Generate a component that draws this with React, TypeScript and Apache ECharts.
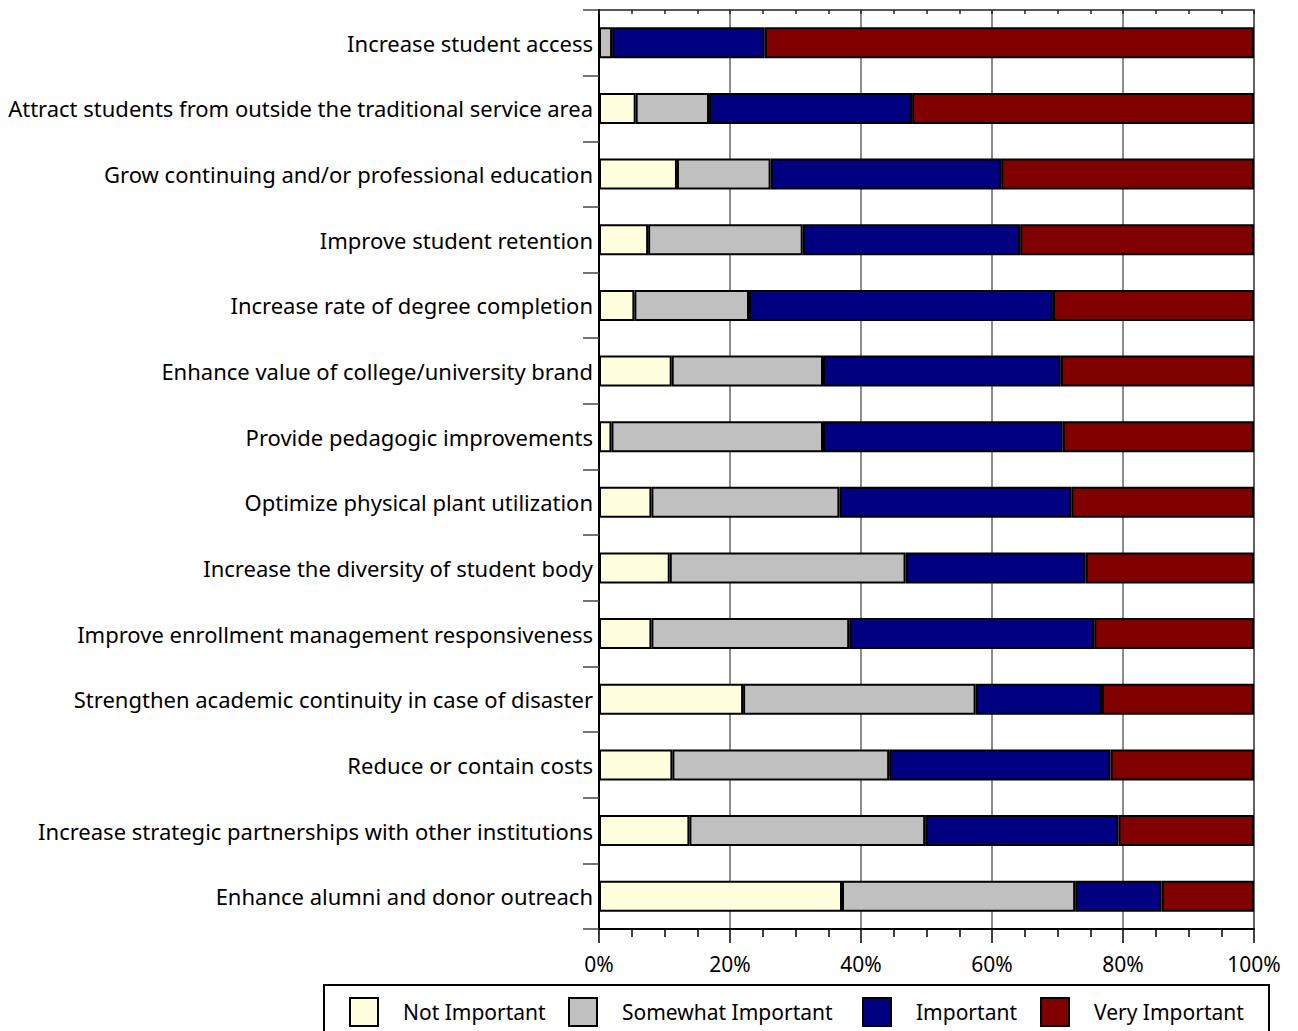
import React, { useEffect, useRef } from "react";
import * as echarts from "echarts";

const categories = [
  "Increase student access",
  "Attract students from outside the traditional service area",
  "Grow continuing and/or professional education",
  "Improve student retention",
  "Increase rate of degree completion",
  "Enhance value of college/university brand",
  "Provide pedagogic improvements",
  "Optimize physical plant utilization",
  "Increase the diversity of student body",
  "Improve enrollment management responsiveness",
  "Strengthen academic continuity in case of disaster",
  "Reduce or contain costs",
  "Increase strategic partnerships with other institutions",
  "Enhance alumni and donor outreach",
];

const notImportant = [0, 5.6, 11.9, 7.5, 5.4, 11.1, 1.9, 8.0, 10.8, 8.0, 22.0, 11.2, 13.8, 37.1];
const somewhatImportant = [2.0, 11.2, 14.3, 23.6, 17.5, 23.1, 32.3, 28.7, 36.0, 30.2, 35.5, 33.1, 36.0, 35.6];
const important = [23.3, 31.0, 35.2, 33.2, 46.4, 36.3, 36.6, 35.4, 27.5, 37.4, 19.3, 33.8, 29.5, 13.2];
const veryImportant = [74.7, 52.2, 38.6, 35.7, 30.7, 29.5, 29.2, 27.9, 25.7, 24.4, 23.2, 21.9, 20.7, 14.1];

const seriesNames = ["Not Important", "Somewhat Important", "Important", "Very Important"];
const seriesColors = ["#FFFFDD", "#C0C0C0", "#000080", "#800000"];
const xTicks = [0, 20, 40, 60, 80, 100];

const FONT = "Noto Sans";
const legendLefts = [349, 568, 862, 1040];

export default function App() {
  const ref = useRef<HTMLDivElement>(null);
  useEffect(() => {
    if (!ref.current) return;
    const chart = echarts.init(ref.current, null, { renderer: "svg" });
    const values = [notImportant, somewhatImportant, important, veryImportant];
    chart.setOption({
      animation: false,
      backgroundColor: "#ffffff",
      textStyle: { fontFamily: FONT },
      grid: {
        left: 599,
        right: 44,
        top: 10,
        bottom: 102,
        show: true,
        borderColor: "#222",
        borderWidth: 1.5,
        backgroundColor: "transparent",
      },
      xAxis: [
        {
          type: "value",
          min: xTicks[0],
          max: xTicks[xTicks.length - 1],
          interval: 20,
          position: "bottom",
          axisLine: { show: true, lineStyle: { color: "#000", width: 2 } },
          axisTick: { show: true, length: 14, lineStyle: { color: "#000", width: 1.5 } },
          minorTick: { show: true, splitNumber: 4, length: 8, lineStyle: { color: "#000", width: 1.5 } },
          axisLabel: {
            formatter: "{value}%",
            fontSize: 21,
            color: "#000",
            margin: 24,
            fontFamily: FONT,
          },
          splitLine: { show: true, lineStyle: { color: "#666", width: 1.5 } },
        },
        {
          type: "value",
          min: 0,
          max: 100,
          interval: 5,
          position: "top",
          axisLine: { show: false },
          axisTick: { show: true, inside: true, length: 4, lineStyle: { color: "#222", width: 1.5 } },
          axisLabel: { show: false },
          splitLine: { show: false },
        },
      ],
      yAxis: {
        type: "category",
        data: categories,
        inverse: true,
        axisLine: { show: true, lineStyle: { color: "#000", width: 2 } },
        axisTick: { show: true, length: 16, interval: 0, lineStyle: { color: "#444", width: 1.5 } },
        axisLabel: { fontSize: 22, color: "#000", margin: 6, fontFamily: FONT, interval: 0 },
      },
      legend: seriesNames.map((name, i) => ({
        left: legendLefts[i],
        top: 997,
        itemWidth: 28,
        itemHeight: 28,
        padding: 0,
        icon: "rect",
        data: [name],
        textStyle: { fontSize: 21, color: "#000", fontFamily: FONT, padding: [0, 0, 0, 20] },
        z: 10,
      })),
      graphic: [
        {
          type: "rect",
          left: 323,
          top: 984,
          shape: { width: 945, height: 70 },
          style: { fill: "#fff", stroke: "#000", lineWidth: 2 },
          z: 1,
        },
      ],
      series: seriesNames.map((name, i) => ({
        name,
        type: "bar",
        stack: "total",
        barWidth: 31,
        data: values[i],
        itemStyle: { color: seriesColors[i], borderColor: "#000", borderWidth: 2 },
        emphasis: { disabled: true },
      })),
    });
    return () => chart.dispose();
  }, []);
  return (
    <div
      ref={ref}
      style={{ position: "fixed", left: 0, top: 0, width: 1298, height: 1031 }}
    />
  );
}
